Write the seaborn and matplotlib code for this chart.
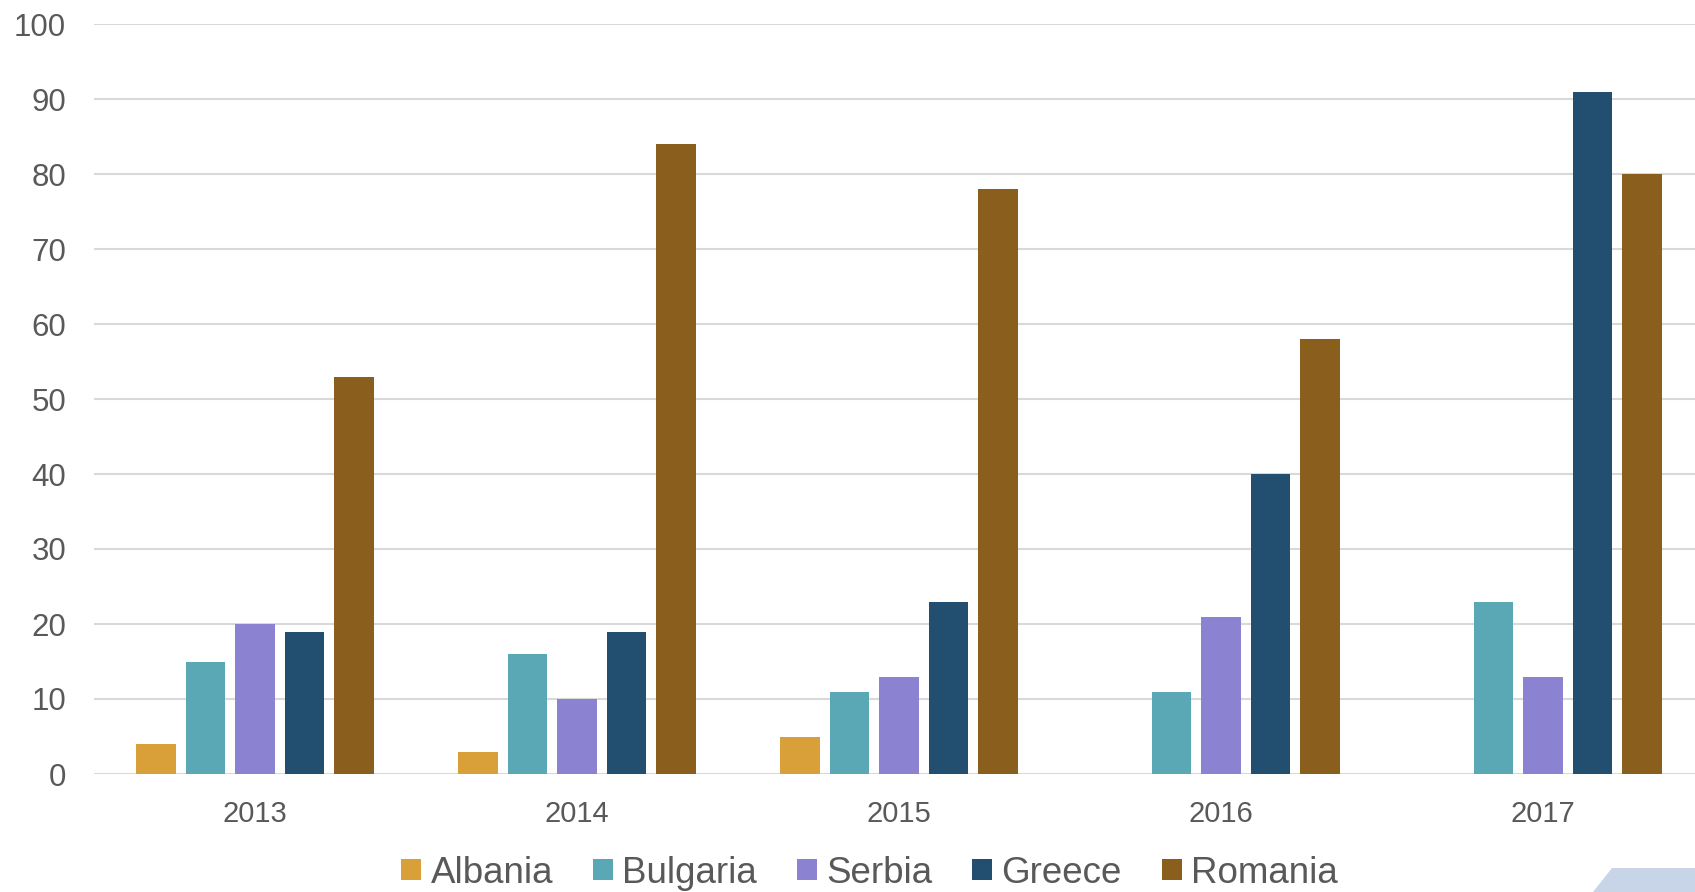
import numpy as np
import pandas as pd
import matplotlib.pyplot as plt
import seaborn as sns
from matplotlib.patches import Polygon

# chart values
years = ["2013", "2014", "2015", "2016", "2017"]
countries = ["Albania", "Bulgaria", "Serbia", "Greece", "Romania"]
albania = [4, 3, 5, np.nan, np.nan]
bulgaria = [15, 16, 11, 11, 23]
serbia = [20, 10, 13, 21, 13]
greece = [19, 19, 23, 40, 91]
romania = [53, 84, 78, 58, 80]
colors = ["#D9A03A", "#5AA8B5", "#8B82D2", "#224E6F", "#8A5F1D"]

rows = []
for name, vals in zip(countries, [albania, bulgaria, serbia, greece, romania]):
    for y, v in zip(years, vals):
        rows.append({"Year": y, "Country": name, "Value": v})
df = pd.DataFrame(rows).dropna()

sns.set_style("white")
plt.rcParams['font.family'] = ['Liberation Sans', 'DejaVu Sans']
text_col = "#595959"

fig = plt.figure(figsize=(16.95, 8.92), dpi=100)
# axes runs a bit past the right edge, like the clipped original
ax = fig.add_axes([94 / 1695, 118 / 892, 1610 / 1695, 750 / 892])

sns.barplot(data=df, x="Year", y="Value", hue="Country", order=years,
            hue_order=countries, palette=colors, width=0.77, gap=0.2,
            linewidth=0, saturation=1, ax=ax)

ax.set_ylim(0, 100)
ax.set_yticks(range(0, 101, 10))
ax.yaxis.grid(True, color="#D9D9D9", linewidth=1.5)
ax.set_axisbelow(True)
for s in ax.spines.values():
    s.set_visible(False)
ax.set_xlabel("")
ax.set_ylabel("")
ax.tick_params(axis="y", length=0, pad=20, labelsize=22.5, labelcolor=text_col)
ax.tick_params(axis="x", length=0, pad=18.5, labelsize=21, labelcolor=text_col)

handles, labels = ax.get_legend_handles_labels()
ax.get_legend().remove()
leg = fig.legend(handles, labels, loc="center", bbox_to_anchor=(0.513, 0.0213),
                 ncol=5, frameon=False, fontsize=26.5, handlelength=0.54,
                 handleheight=0.54, handletextpad=0.25, columnspacing=1.09,
                 borderaxespad=0, borderpad=0)
for t in leg.get_texts():
    t.set_color(text_col)

# little light-blue corner shape at the bottom right
corner = Polygon([[1612 / 1695, 24 / 892], [1.0, 24 / 892], [1.0, 0.0], [1593 / 1695, 0.0]],
                 closed=True, transform=fig.transFigure, facecolor="#C8D5E8",
                 edgecolor="none")
fig.patches.append(corner)

fig.savefig("out.png", dpi=100)
